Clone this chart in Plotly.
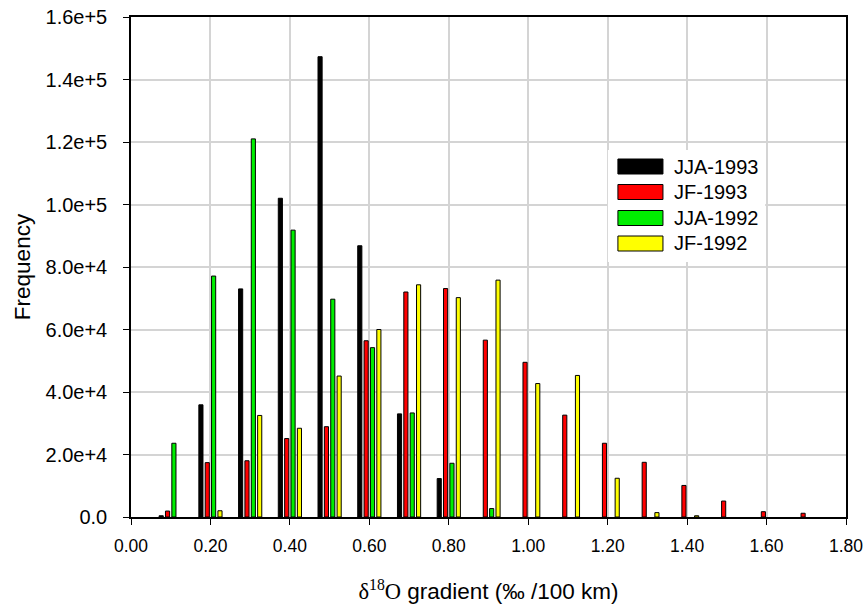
import plotly.graph_objects as go

bins = [0.1, 0.2, 0.3, 0.4, 0.5, 0.6, 0.7, 0.8, 0.9, 1.0, 1.1, 1.2, 1.3, 1.4, 1.5, 1.6, 1.7]
jja_1993 = [400, 35900, 73000, 102000, 147300, 86800, 33000, 12300, 0, 0, 0, 0, 0, 0, 0, 0, 0]
jf_1993 = [1900, 17400, 18000, 25100, 28900, 56400, 72000, 73100, 56600, 49500, 32600, 23600, 17500, 10100, 5100, 1700, 1200]
jja_1992 = [23600, 77100, 121000, 91800, 69700, 54200, 33300, 17200, 2700, 0, 0, 0, 0, 0, 0, 0, 0]
jf_1992 = [0, 2000, 32500, 28400, 45100, 60000, 74300, 70200, 75800, 42700, 45300, 12400, 1400, 400, 0, 0, 0]

series_names = ["JJA-1993", "JF-1993", "JJA-1992", "JF-1992"]
series_values = [jja_1993, jf_1993, jja_1992, jf_1992]
series_colors = ["#000000", "#ff0000", "#00ee00", "#ffff00"]

y_ticks = [0, 20000, 40000, 60000, 80000, 100000, 120000, 140000, 160000]
y_ticktext = ["0.0", "2.0e+4", "4.0e+4", "6.0e+4", "8.0e+4", "1.0e+5", "1.2e+5", "1.4e+5", "1.6e+5"]
x_ticks = [0.0, 0.2, 0.4, 0.6, 0.8, 1.0, 1.2, 1.4, 1.6, 1.8]
x_ticktext = ["0.00", "0.20", "0.40", "0.60", "0.80", "1.00", "1.20", "1.40", "1.60", "1.80"]

SANS = "Liberation Sans, Arial, sans-serif"
SERIF = "Liberation Serif, Times New Roman, serif"

fig = go.Figure()
for name, vals, col in zip(series_names, series_values, series_colors):
    fig.add_trace(go.Bar(
        x=bins, y=[v if v > 0 else None for v in vals], name=name,
        marker=dict(color=col, line=dict(color="#000000", width=1)),
        showlegend=False,
    ))

fig.update_layout(
    width=866, height=604,
    margin=dict(l=131, r=20, t=17, b=87),
    paper_bgcolor="white", plot_bgcolor="white",
    barmode="group", bargap=0.36, bargroupgap=0.35,
    font=dict(family=SANS, color="#000000"),
)
fig.update_xaxes(
    range=[0, 1.8], tickvals=x_ticks, ticktext=x_ticktext, automargin=False,
    tickfont=dict(family=SANS, size=17.5), ticklabelstandoff=6, ticklabeloverflow="allow",
    showline=True, linecolor="#000000", linewidth=1.5, mirror=True,
    ticks="outside", ticklen=6, tickcolor="#000000",
    showgrid=True, gridcolor="#d4d4d4", gridwidth=1.5, zeroline=False,
    title=dict(
        text=f'<span style="font-family:{SERIF}">δ<sup>18</sup>O</span> gradient (‰ /100 km)',
        font=dict(family=SANS, size=22.5), standoff=36,
    ),
)
fig.update_yaxes(
    range=[0, 160000], tickvals=y_ticks, ticktext=y_ticktext, automargin=False,
    tickfont=dict(family=SANS, size=20), ticklabelstandoff=12, ticklabeloverflow="allow",
    showline=True, linecolor="#000000", linewidth=1.5, mirror=True,
    ticks="outside", ticklen=6, tickcolor="#000000",
    showgrid=True, gridcolor="#d4d4d4", gridwidth=1.5, zeroline=False,
    title=dict(text="Frequency", font=dict(family=SANS, size=22.5), standoff=9),
)

# custom legend (wide swatches) in paper coordinates
shapes = [dict(type="rect", xref="paper", yref="paper", x0=0.667, x1=0.887, y0=0.51, y1=0.734,
               fillcolor="white", line=dict(width=0), layer="above")]
annotations = []
row_y = [0.701, 0.65, 0.598, 0.547]
for name, col, yc in zip(series_names, series_colors, row_y):
    shapes.append(dict(type="rect", xref="paper", yref="paper", x0=0.681, x1=0.744,
                       y0=yc - 0.015, y1=yc + 0.015, fillcolor=col,
                       line=dict(color="#000000", width=1), layer="above"))
    annotations.append(dict(xref="paper", yref="paper", x=0.757, y=yc, text=name,
                            showarrow=False, xanchor="left", yanchor="middle",
                            font=dict(family=SANS, size=20, color="#000000")))
fig.update_layout(shapes=shapes, annotations=annotations)

fig.write_html("out.html", config={"displayModeBar": False},
               post_script="document.body.style.margin='0';")
